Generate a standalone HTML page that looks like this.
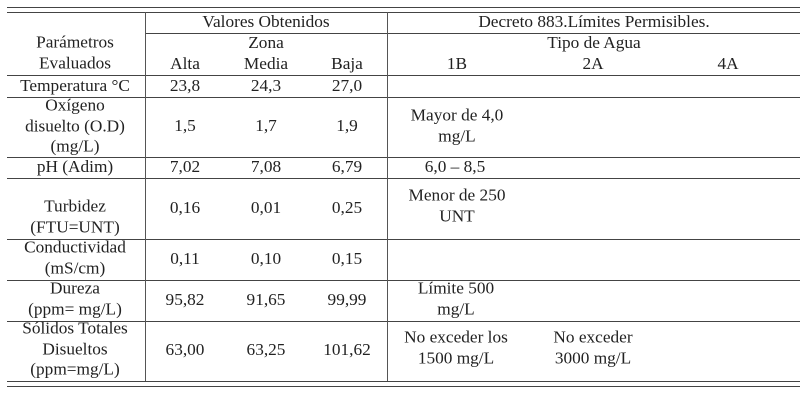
<!DOCTYPE html>
<html><head><meta charset="utf-8"><style>
body{margin:0;width:810px;height:403px;background:#fff;position:relative;overflow:hidden;font-family:"Liberation Serif",serif;font-size:17.3px;color:#222}
.h{position:absolute;height:0;border-top:1.3px solid #444}
.v{position:absolute;width:0;border-left:1.3px solid #555}
.t{position:absolute;transform:translate(-50%,-50%);text-align:center;white-space:nowrap;line-height:20.5px}
</style></head><body>
<div class="h" style="left:7px;width:793px;top:7px"></div>
<div class="h" style="left:7px;width:793px;top:12px"></div>
<div class="h" style="left:145px;width:243px;top:33px"></div>
<div class="h" style="left:388px;width:412px;top:33px"></div>
<div class="h" style="left:7px;width:793px;top:75px"></div>
<div class="h" style="left:7px;width:793px;top:97px"></div>
<div class="h" style="left:7px;width:793px;top:157px"></div>
<div class="h" style="left:7px;width:793px;top:178px"></div>
<div class="h" style="left:7px;width:793px;top:239px"></div>
<div class="h" style="left:7px;width:793px;top:280px"></div>
<div class="h" style="left:7px;width:793px;top:321px"></div>
<div class="h" style="left:7px;width:793px;top:381px"></div>
<div class="h" style="left:7px;width:793px;top:386px"></div>
<div class="v" style="left:145px;top:12px;height:369px"></div>
<div class="v" style="left:387px;top:12px;height:369px"></div>

<div class="t" style="left:266px;top:22px">Valores Obtenidos</div>
<div class="t" style="left:594px;top:22px">Decreto 883.Límites Permisibles.</div>
<div class="t" style="left:75px;top:53px">Parámetros<br>Evaluados</div>
<div class="t" style="left:266px;top:43px">Zona</div>
<div class="t" style="left:594px;top:43px">Tipo de Agua</div>
<div class="t" style="left:185px;top:64px">Alta</div>
<div class="t" style="left:266px;top:64px">Media</div>
<div class="t" style="left:347px;top:64px">Baja</div>
<div class="t" style="left:457px;top:64px">1B</div>
<div class="t" style="left:593px;top:64px">2A</div>
<div class="t" style="left:728px;top:64px">4A</div>

<div class="t" style="left:75px;top:86px">Temperatura °C</div>
<div class="t" style="left:185px;top:86px">23,8</div>
<div class="t" style="left:266px;top:86px">24,3</div>
<div class="t" style="left:347px;top:86px">27,0</div>

<div class="t" style="left:75px;top:126px">Oxígeno<br>disuelto (O.D)<br>(mg/L)</div>
<div class="t" style="left:185px;top:126px">1,5</div>
<div class="t" style="left:266px;top:126px">1,7</div>
<div class="t" style="left:347px;top:126px">1,9</div>
<div class="t" style="left:457px;top:126px">Mayor de 4,0<br>mg/L</div>

<div class="t" style="left:75px;top:167px">pH (Adim)</div>
<div class="t" style="left:185px;top:167px">7,02</div>
<div class="t" style="left:266px;top:167px">7,08</div>
<div class="t" style="left:347px;top:167px">6,79</div>
<div class="t" style="left:455px;top:167px">6,0 – 8,5</div>

<div class="t" style="left:75px;top:217px">Turbidez<br>(FTU=UNT)</div>
<div class="t" style="left:185px;top:208px">0,16</div>
<div class="t" style="left:266px;top:208px">0,01</div>
<div class="t" style="left:347px;top:208px">0,25</div>
<div class="t" style="left:457px;top:206px">Menor de 250<br>UNT</div>

<div class="t" style="left:75px;top:258px">Conductividad<br>(mS/cm)</div>
<div class="t" style="left:185px;top:259px">0,11</div>
<div class="t" style="left:266px;top:259px">0,10</div>
<div class="t" style="left:347px;top:259px">0,15</div>

<div class="t" style="left:75px;top:299px">Dureza<br>(ppm= mg/L)</div>
<div class="t" style="left:185px;top:300px">95,82</div>
<div class="t" style="left:266px;top:300px">91,65</div>
<div class="t" style="left:347px;top:300px">99,99</div>
<div class="t" style="left:456px;top:299px">Límite 500<br>mg/L</div>

<div class="t" style="left:75px;top:349px">Sólidos Totales<br>Disueltos<br>(ppm=mg/L)</div>
<div class="t" style="left:185px;top:350px">63,00</div>
<div class="t" style="left:266px;top:350px">63,25</div>
<div class="t" style="left:347px;top:350px">101,62</div>
<div class="t" style="left:456px;top:348px">No exceder los<br>1500 mg/L</div>
<div class="t" style="left:593px;top:348px">No exceder<br>3000 mg/L</div>
</body></html>
